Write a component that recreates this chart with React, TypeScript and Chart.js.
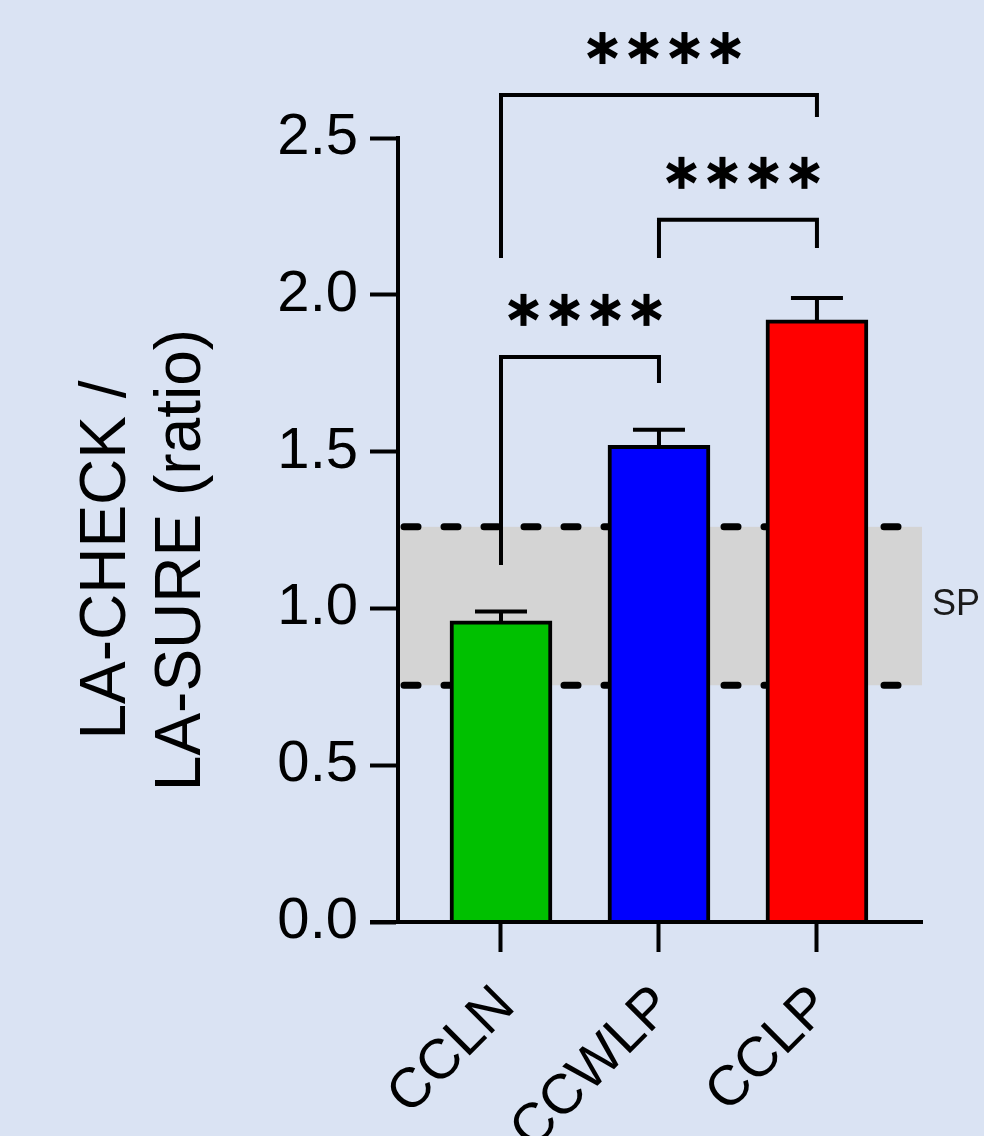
import { useEffect, useRef } from 'react';
import { Chart, registerables } from 'chart.js';

Chart.register(...registerables);

// Group names and ratio values (mean and mean + error)
const categories = ['CCLN', 'CCWLP', 'CCLP'];
const meanRatio = [0.96, 1.52, 1.92];
const upperError = [0.99, 1.57, 1.99];
const barColors = ['#00c000', '#0000ff', '#ff0000'];

// Y axis ticks
const yTickValues = [0, 0.5, 1, 1.5, 2, 2.5];

// Reference band (dashed limits) and its label
const bandLow = 0.755;
const bandHigh = 1.26;
const bandLabel = 'SP';

// Significance brackets: group indices, bar height and leg ends (in ratio units)
const bracketFrom = [0, 1, 0];
const bracketTo = [2, 2, 1];
const bracketTop = [2.637, 2.239, 1.802];
const bracketLeftEnd = [2.117, 2.117, 1.138];
const bracketRightEnd = [2.567, 2.149, 1.719];
const bracketStars = [4, 4, 4];

const yTitleLines = ['LA-CHECK /', 'LA-SURE (ratio)'];

const FONT = '"Liberation Sans", Arial, sans-serif';
const BG = '#dae3f3';

function drawAsterisk(ctx: CanvasRenderingContext2D, cx: number, cy: number, r: number) {
  ctx.save();
  ctx.strokeStyle = '#000';
  ctx.lineWidth = 6;
  ctx.lineCap = 'butt';
  [90, 30, 150].forEach((deg) => {
    const a = (deg * Math.PI) / 180;
    ctx.beginPath();
    ctx.moveTo(cx - r * Math.cos(a), cy - r * Math.sin(a));
    ctx.lineTo(cx + r * Math.cos(a), cy + r * Math.sin(a));
    ctx.stroke();
  });
  ctx.restore();
}

const overlayPlugin = {
  id: 'overlay',
  beforeDraw(chart: any) {
    const { ctx, width, height } = chart;
    ctx.save();
    ctx.fillStyle = BG;
    ctx.fillRect(0, 0, width, height);
    ctx.restore();
  },
  beforeDatasetsDraw(chart: any) {
    const { ctx, chartArea, scales } = chart;
    const y = scales.y;
    const yHi = y.getPixelForValue(bandHigh);
    const yLo = y.getPixelForValue(bandLow);
    ctx.save();
    ctx.fillStyle = '#d4d4d4';
    ctx.fillRect(chartArea.left + 2, yHi, chartArea.right - chartArea.left - 2, yLo - yHi);
    ctx.strokeStyle = '#000';
    ctx.lineWidth = 7;
    ctx.lineCap = 'round';
    ctx.setLineDash([14, 26]);
    [yHi, yLo].forEach((py) => {
      ctx.beginPath();
      ctx.moveTo(chartArea.left + 6, py);
      ctx.lineTo(chartArea.right - 4, py);
      ctx.stroke();
    });
    ctx.restore();
  },
  afterDatasetsDraw(chart: any) {
    const { ctx, chartArea, scales } = chart;
    const x = scales.x;
    const y = scales.y;
    ctx.save();
    ctx.strokeStyle = '#000';
    ctx.lineWidth = 4;
    // error bars (upper only)
    meanRatio.forEach((m, i) => {
      const px = x.getPixelForValue(i);
      const top = y.getPixelForValue(upperError[i]);
      const base = y.getPixelForValue(m);
      ctx.beginPath();
      ctx.moveTo(px, base);
      ctx.lineTo(px, top);
      ctx.moveTo(px - 26, top);
      ctx.lineTo(px + 26, top);
      ctx.stroke();
    });
    // x axis line on top of the bars
    ctx.beginPath();
    ctx.moveTo(chartArea.left - 28, chartArea.bottom);
    ctx.lineTo(chartArea.right, chartArea.bottom);
    ctx.stroke();
    ctx.restore();
  },
  afterDraw(chart: any) {
    const { ctx, scales, chartArea } = chart;
    const x = scales.x;
    const y = scales.y;
    ctx.save();

    // significance brackets
    ctx.strokeStyle = '#000';
    ctx.lineWidth = 4;
    ctx.lineCap = 'butt';
    bracketTop.forEach((top, k) => {
      const x1 = x.getPixelForValue(bracketFrom[k]);
      const x2 = x.getPixelForValue(bracketTo[k]);
      const yt = y.getPixelForValue(top);
      ctx.beginPath();
      ctx.moveTo(x1, y.getPixelForValue(bracketLeftEnd[k]));
      ctx.lineTo(x1, yt);
      ctx.lineTo(x2, yt);
      ctx.lineTo(x2, y.getPixelForValue(bracketRightEnd[k]));
      ctx.stroke();
      const n = bracketStars[k];
      const cx = (x1 + x2) / 2 + 5;
      const gap = 41;
      for (let s = 0; s < n; s++) {
        drawAsterisk(ctx, cx + (s - (n - 1) / 2) * gap, yt - 47, 16);
      }
    });

    // band label
    ctx.fillStyle = '#1a1a1a';
    ctx.font = `36px ${FONT}`;
    ctx.textAlign = 'left';
    ctx.textBaseline = 'alphabetic';
    ctx.fillText(bandLabel, chartArea.right + 10, y.getPixelForValue((bandLow + bandHigh) / 2) + 9);

    // y axis title, two rotated lines
    ctx.fillStyle = '#000';
    ctx.font = `64px ${FONT}`;
    ctx.textAlign = 'center';
    ctx.textBaseline = 'alphabetic';
    const midY = (chartArea.top + chartArea.bottom) / 2 + 30;
    yTitleLines.forEach((line, i) => {
      ctx.save();
      ctx.translate(125 + i * 75, midY);
      ctx.rotate(-Math.PI / 2);
      ctx.fillText(line, 0, 0);
      ctx.restore();
    });

    // rotated category labels
    const fs = 56;
    ctx.font = `${fs}px ${FONT}`;
    ctx.textAlign = 'right';
    ctx.textBaseline = 'alphabetic';
    categories.forEach((label, i) => {
      ctx.save();
      ctx.translate(x.getPixelForValue(i) + 2, chartArea.bottom + 72);
      ctx.rotate(-Math.PI / 4);
      ctx.fillText(label, 0, fs * 0.716 / 2);
      ctx.restore();
    });

    ctx.restore();
  },
};

export default function App() {
  const canvasRef = useRef<HTMLCanvasElement | null>(null);

  useEffect(() => {
    document.body.style.margin = '0';
    document.body.style.background = BG;
    const canvas = canvasRef.current;
    if (!canvas) return;

    const chart = new Chart(canvas, {
      type: 'bar',
      data: {
        datasets: [
          {
            data: meanRatio.map((v, i) => ({ x: i, y: v })),
            backgroundColor: barColors,
            borderColor: '#000',
            borderWidth: 4,
            barThickness: 102,
          },
        ],
      },
      options: {
        responsive: false,
        animation: false,
        devicePixelRatio: 1,
        layout: { padding: { top: 138, right: 62, bottom: 0, left: 0 } },
        plugins: { legend: { display: false }, tooltip: { enabled: false } },
        scales: {
          x: {
            type: 'linear',
            min: -0.652,
            max: 2.665,
            offset: false,
            afterBuildTicks: (s: any) => {
              s.ticks = categories.map((_, i) => ({ value: i }));
            },
            ticks: { display: false },
            grid: {
              offset: false,
              drawOnChartArea: false,
              drawTicks: true,
              tickLength: 30,
              tickWidth: 4,
              tickColor: '#000',
            },
            border: { display: true, width: 4, color: '#000' },
            afterFit: (s: any) => {
              s.height = 214;
              s.paddingLeft = 0;
              s.paddingRight = 0;
            },
          },
          y: {
            min: 0,
            max: 2.5,
            afterBuildTicks: (s: any) => {
              s.ticks = yTickValues.map((v) => ({ value: v }));
            },
            ticks: {
              color: '#000',
              font: { size: 58, family: FONT },
              padding: 12,
              callback: (v: any) => Number(v).toFixed(1),
            },
            grid: {
              drawOnChartArea: false,
              drawTicks: true,
              tickLength: 28,
              tickWidth: 4,
              tickColor: '#000',
            },
            border: { display: true, width: 4, color: '#000' },
            afterFit: (s: any) => {
              s.width = 398;
              s.paddingTop = 0;
              s.paddingBottom = 0;
            },
          },
        },
      },
      plugins: [overlayPlugin],
    });

    return () => chart.destroy();
  }, []);

  return (
    <div style={{ width: 984, height: 1136, position: 'relative', overflow: 'hidden' }}>
      <canvas ref={canvasRef} width={984} height={1136} style={{ display: 'block', width: 984, height: 1136 }} />
    </div>
  );
}
